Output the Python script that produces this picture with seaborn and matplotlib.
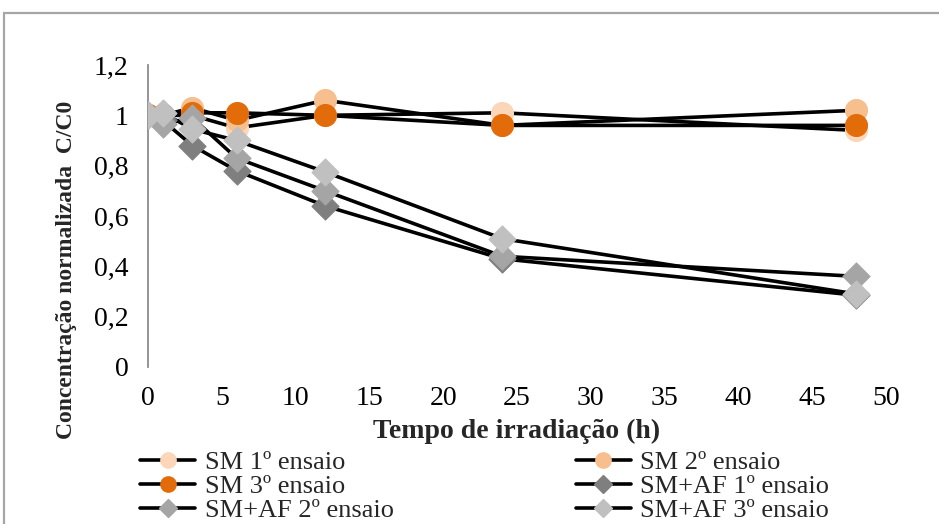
import pandas as pd
import seaborn as sns
import matplotlib.pyplot as plt
from matplotlib.lines import Line2D
from matplotlib.patches import Rectangle
from matplotlib.ticker import FuncFormatter

# data
tempo = [0, 1, 3, 6, 12, 24, 48]
sm_1 = [1.00, 1.00, 1.00, 0.95, 1.00, 1.01, 0.94]
sm_2 = [1.00, 1.00, 1.03, 0.98, 1.06, 0.96, 1.02]
sm_3 = [1.00, 1.00, 1.01, 1.01, 1.00, 0.96, 0.96]
smaf_1 = [1.00, 0.98, 0.88, 0.78, 0.64, 0.43, 0.285]
smaf_2 = [1.00, 0.965, 0.99, 0.83, 0.70, 0.44, 0.36]
smaf_3 = [1.00, 1.01, 0.945, 0.90, 0.775, 0.51, 0.29]

labels = ["SM 1º ensaio", "SM 2º ensaio", "SM 3º ensaio",
          "SM+AF 1º ensaio", "SM+AF 2º ensaio", "SM+AF 3º ensaio"]
series = [sm_1, sm_2, sm_3, smaf_1, smaf_2, smaf_3]
colors = ["#FBD6B8", "#F7BE8E", "#E36C0A", "#7F7F7F", "#A5A5A5", "#C0C0C0"]
markers = ["o", "o", "o", "D", "D", "D"]
sizes = [250, 250, 250, 190, 190, 190]

sns.set_theme(style="white")
plt.rcParams["font.family"] = ["Liberation Serif", "DejaVu Serif"]

fig = plt.figure(figsize=(9.39, 5.24), dpi=100)
ax = fig.add_axes([148 / 939, 1 - 367 / 524, 738 / 939, 302 / 524])

# lines first, markers on top (like Excel)
for vals in series:
    df = pd.DataFrame({"t": tempo, "c": vals})
    sns.lineplot(data=df, x="t", y="c", color="black", linewidth=2.6, ax=ax, zorder=2)
for vals, col, mk, sz in zip(series, colors, markers, sizes):
    df = pd.DataFrame({"t": tempo, "c": vals})
    sns.scatterplot(data=df, x="t", y="c", color=col, marker=mk, s=sz,
                    edgecolor=col, linewidth=0.8, ax=ax, zorder=3)

ax.set_xlim(0, 50)
ax.set_ylim(0, 1.2)
ax.set_xticks(range(0, 51, 5))
ax.set_yticks([0, 0.2, 0.4, 0.6, 0.8, 1.0, 1.2])
ax.yaxis.set_major_formatter(FuncFormatter(lambda v, p: f"{v:g}".replace(".", ",")))
ax.tick_params(axis="both", length=0, labelsize=20, colors="black")
ax.tick_params(axis="y", pad=14)
ax.tick_params(axis="x", pad=14)
for s in ["top", "right", "bottom"]:
    ax.spines[s].set_visible(False)
ax.spines["left"].set_color("#8C8C8C")
ax.spines["left"].set_linewidth(1.3)

ax.set_xlabel("Tempo de irradiação (h)", fontsize=20, fontweight="bold", labelpad=5)
ax.set_ylabel("Concentração normalizada  C/C0", fontsize=17, fontweight="bold")
ax.yaxis.set_label_coords((77 - 148) / 738, (367 - 270) / 302)

handles = []
for lab, col, mk in zip(labels, colors, markers):
    handles.append(Line2D([0], [0], color="black", lw=2.6, marker=mk,
                          markersize=11 if mk == "o" else 9,
                          markerfacecolor=col, markeredgecolor=col, label=lab))
order = [0, 2, 4, 1, 3, 5]
fig.legend([handles[i] for i in order], [labels[i] for i in order],
           ncol=2, loc="upper left", bbox_to_anchor=(140 / 939, 1 - 451 / 524),
           frameon=False, fontsize=19, handlelength=2.1, handletextpad=0.35,
           labelspacing=0.02, columnspacing=6.9, borderpad=0, borderaxespad=0)

# outer chart border
fig.add_artist(Rectangle((4 / 939, -0.05), 1.0, 1 - 13 / 524 + 0.05,
                         transform=fig.transFigure, fill=False,
                         edgecolor="#A6A6A6", linewidth=1.6))

fig.savefig("out.png", dpi=100)
